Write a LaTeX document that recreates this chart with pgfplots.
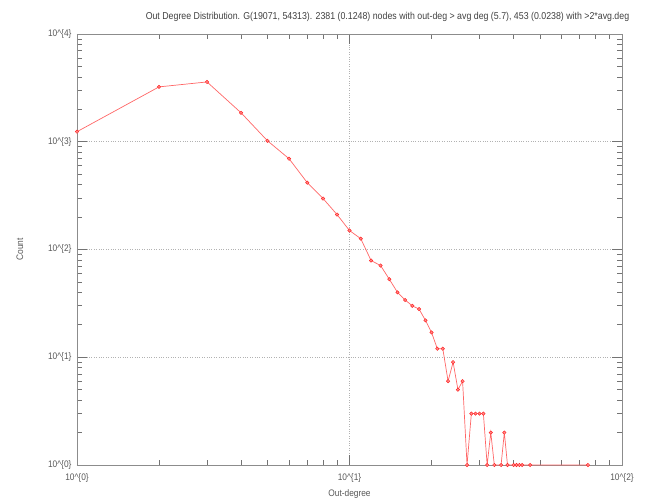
\documentclass[border=0pt]{standalone}
\usepackage{fontspec}
\setmainfont[FakeStretch=0.88]{Liberation Sans}
\usepackage{pgfplots}
\pgfplotsset{compat=1.18}
\begin{document}
\begin{tikzpicture}
\begin{axis}[
  name=ax,
  scale only axis,
  width=545pt, height=431pt,
  xmode=log, ymode=log,
  xmin=1, xmax=100, ymin=1, ymax=10000,
  xtick={1,10,100},
  xticklabels={10\textasciicircum\{0\},10\textasciicircum\{1\},10\textasciicircum\{2\}},
  ytick={1,10,100,1000,10000},
  yticklabels={10\textasciicircum\{0\},10\textasciicircum\{1\},10\textasciicircum\{2\},10\textasciicircum\{3\},10\textasciicircum\{4\}},
  minor xtick={2,3,4,5,6,7,8,9,20,30,40,50,60,70,80,90},
  minor ytick={2,3,4,5,6,7,8,9,20,30,40,50,60,70,80,90,200,300,400,500,600,700,800,900,2000,3000,4000,5000,6000,7000,8000,9000},
  xmajorgrids, ymajorgrids,
  major grid style={dotted, black!30, line width=0.6pt},
  axis line style={black!45, line width=0.9pt},
  tick style={black!55, line width=0.7pt},
  major tick length=10pt, minor tick length=5pt,
  tick align=inside,
  xtick pos=both, ytick pos=both,
  ticklabel style={font=\fontsize{9.5}{11}\selectfont, text=black!65},
  xticklabel style={yshift=-5pt},
  yticklabel style={xshift=-2pt},
  xlabel={Out-degree}, ylabel={Count},
  label style={font=\fontsize{9.5}{11}\selectfont, text=black!65},
  xlabel style={yshift=0pt},
  ylabel style={yshift=18pt},
  title={Out Degree Distribution. G(19071, 54313). 2381 (0.1248) nodes with out-deg {>} avg deg (5.7), 453 (0.0238) with {>}2*avg.deg},
  title style={font=\fontsize{10}{12}\selectfont, text=black!75, xshift=38pt, yshift=3pt},
]
\addplot[color=red!60, line width=0.7pt, mark=*, mark size=1.7pt, mark options={fill=red!45, draw=red!85, line width=0.5pt}] coordinates {
(1,1240) (2,3230) (3,3590) (4,1856) (5,1021) (6,696) (7,417) (8,297) (9,211) (10,150)
(11,126) (12,79) (13,71) (14,53) (15,40) (16,34) (17,30) (18,28) (19,22) (20,17)
(21,12) (22,12) (23,6) (24,9) (25,5) (26,6) (27,1) (28,3) (29,3) (30,3) (31,3)
(32,1) (33,2) (34,1) (36,1) (37,2) (38,1) (40,1) (41,1) (42,1) (43,1) (46,1) (75,1)
};
\end{axis}
\pgfresetboundingbox
\path ([xshift=-77pt,yshift=-34pt]ax.south west) rectangle ([xshift=23pt,yshift=34pt]ax.north east);
\end{tikzpicture}
\end{document}
